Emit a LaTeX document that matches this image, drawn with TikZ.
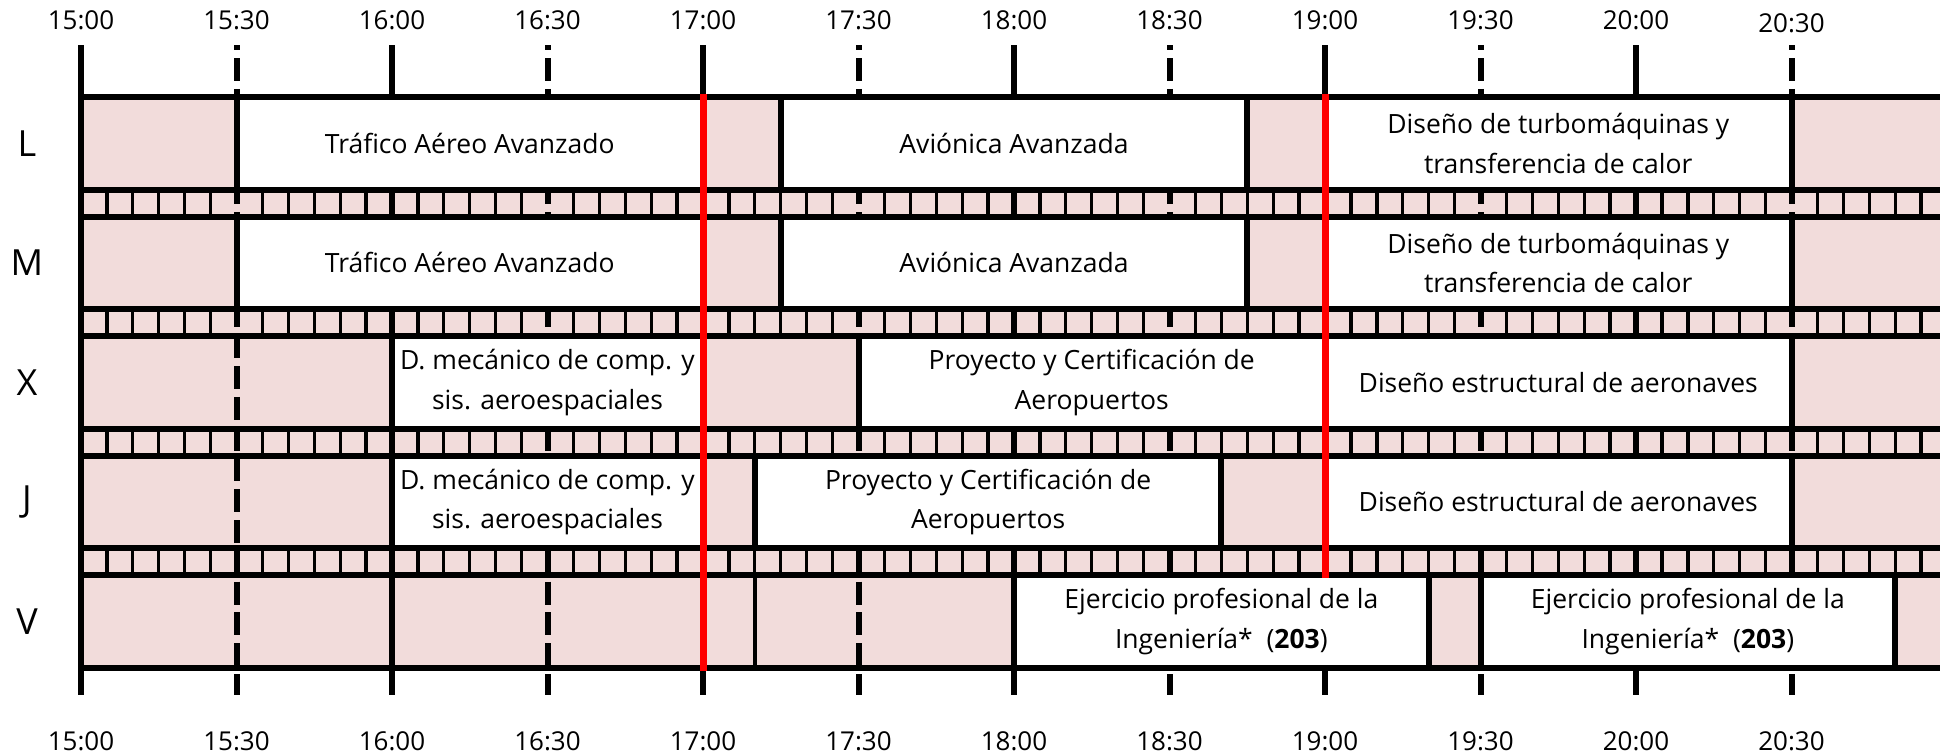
\documentclass[tikz,border=0pt]{standalone}
\usepackage{fontspec}
\setmainfont{Open Sans}
\definecolor{pinkbg}{RGB}{242,220,219}
\tikzset{
  hourline/.style={line width=6pt},
  halfline/.style={line width=6pt, dash pattern=on 23pt off 7.8pt, dash phase=17.8pt},
  stripline/.style={line width=3.3pt},
  rowline/.style={line width=6pt},
  thinline/.style={line width=3.6pt},
  course/.style={draw, line width=6pt, fill=white, inner sep=0pt, align=center,
    font=\fontsize{26.5}{39.5}\selectfont},
  daylabel/.style={font=\fontsize{36}{40}\selectfont},
  timelabel/.style={font=\fontsize{26}{30}\selectfont},
  redline/.style={line width=7pt, red},
}
\newcommand{\crs}[5]{%
  \pgfmathsetmacro\crsxa{81+155.5*(#2)}%
  \pgfmathsetmacro\crsxb{81+155.5*(#3)}%
  \pgfmathsetmacro\crsya{97+119.5*(#4)}%
  \pgfmathsetmacro\crswd{\crsxb-\crsxa}%
  \pgfmathsetmacro\crscx{(\crsxa+\crsxb)/2}%
  \pgfmathsetmacro\crscy{\crsya+46.4}%
  \node[course, minimum width=\crswd pt, minimum height=92.8pt] (#1) at (\crscx,\crscy) {#5};%
}
\begin{document}
\begin{tikzpicture}[x=1pt,y=-1pt]
\useasboundingbox (0,0) rectangle (1940,755);
\clip (0,0) rectangle (1940,755);
% pink background
\fill[pinkbg] (81,97) rectangle (1960,668);
% strip cell lines
\foreach \i in {0,...,3}{
  \pgfmathsetmacro\sa{97+119.5*\i+92.8}
  \pgfmathsetmacro\sb{97+119.5*(\i+1)}
  \foreach \m in {1,...,144}{
    \pgfmathtruncatemacro\r{mod(\m,6)}
    \pgfmathsetmacro\sx{81+25.91667*\m}
    \ifnum\r=0\else
      \draw[stripline] (\sx,\sa) -- (\sx,\sb);
    \fi
  }
}
% grid lines
\foreach \k in {0,2,...,12}{
  \draw[hourline] ({81+155.5*\k},45) -- ({81+155.5*\k},695);
}
\foreach \k in {1,3,...,11}{
  \draw[halfline] ({81+155.5*\k},45) -- ({81+155.5*\k},695);
}
% thin line in V row at 17:10
\coordinate (v1) at ({81+155.5*13/3},{97+119.5*4});
\coordinate (v2) at ({81+155.5*13/3},{97+119.5*4+92.8});
\draw[thinline] (v1) -- (v2);
% courses
\crs{l1}{1}{4}{0}{Tráfico Aéreo Avanzado}
\crs{l2}{4.5}{7.5}{0}{Aviónica Avanzada}
\crs{l3}{8}{11}{0}{Diseño de turbomáquinas y\\transferencia de calor}
\crs{m1}{1}{4}{1}{Tráfico Aéreo Avanzado}
\crs{m2}{4.5}{7.5}{1}{Aviónica Avanzada}
\crs{m3}{8}{11}{1}{Diseño de turbomáquinas y\\transferencia de calor}
\crs{x1}{2}{4}{2}{D. mecánico de comp. y\\sis. aeroespaciales}
\crs{x2}{5}{8}{2}{Proyecto y Certificación de\\Aeropuertos}
\crs{x3}{8}{11}{2}{Diseño estructural de aeronaves}
\crs{j1}{2}{4}{3}{D. mecánico de comp. y\\sis. aeroespaciales}
\crs{j2}{13/3}{22/3}{3}{Proyecto y Certificación de\\Aeropuertos}
\crs{j3}{8}{11}{3}{Diseño estructural de aeronaves}
\crs{v1b}{6}{26/3}{4}{Ejercicio profesional de la\\Ingeniería*~~(\textbf{203})}
\crs{v2b}{9}{35/3}{4}{Ejercicio profesional de la\\Ingeniería*~~(\textbf{203})}
% row lines
\foreach \i in {0,...,4}{
  \pgfmathsetmacro\ta{97+119.5*\i}
  \pgfmathsetmacro\tb{97+119.5*\i+92.8}
  \draw[rowline] (81,\ta) -- (1960,\ta);
  \draw[rowline] (81,\tb) -- (1960,\tb);
}
% red lines
\coordinate (r1a) at ({81+155.5*4},94);
\coordinate (r1b) at ({81+155.5*4},671);
\coordinate (r2a) at ({81+155.5*8},94);
\coordinate (r2b) at ({81+155.5*8},578);
\draw[redline] (r1a) -- (r1b);
\draw[redline] (r2a) -- (r2b);
% day labels
\foreach \d [count=\i from 0] in {L,M,X,J,V}{
  \node[daylabel] (day\d) at (27,{97+46.4+119.5*\i}) {\d};
}
% time labels
\foreach \t [count=\k from 0] in {15:00,15:30,16:00,16:30,17:00,17:30,18:00,18:30,19:00,19:30,20:00,20:30}{
  \pgfmathsetmacro\ty{ifthenelse(\k==11,23.5,20.5)}
  \node[timelabel] (top\k) at ({81+155.5*\k},\ty) {\t};
  \node[timelabel] (bot\k) at ({81+155.5*\k},741) {\t};
}
\end{tikzpicture}
\end{document}
